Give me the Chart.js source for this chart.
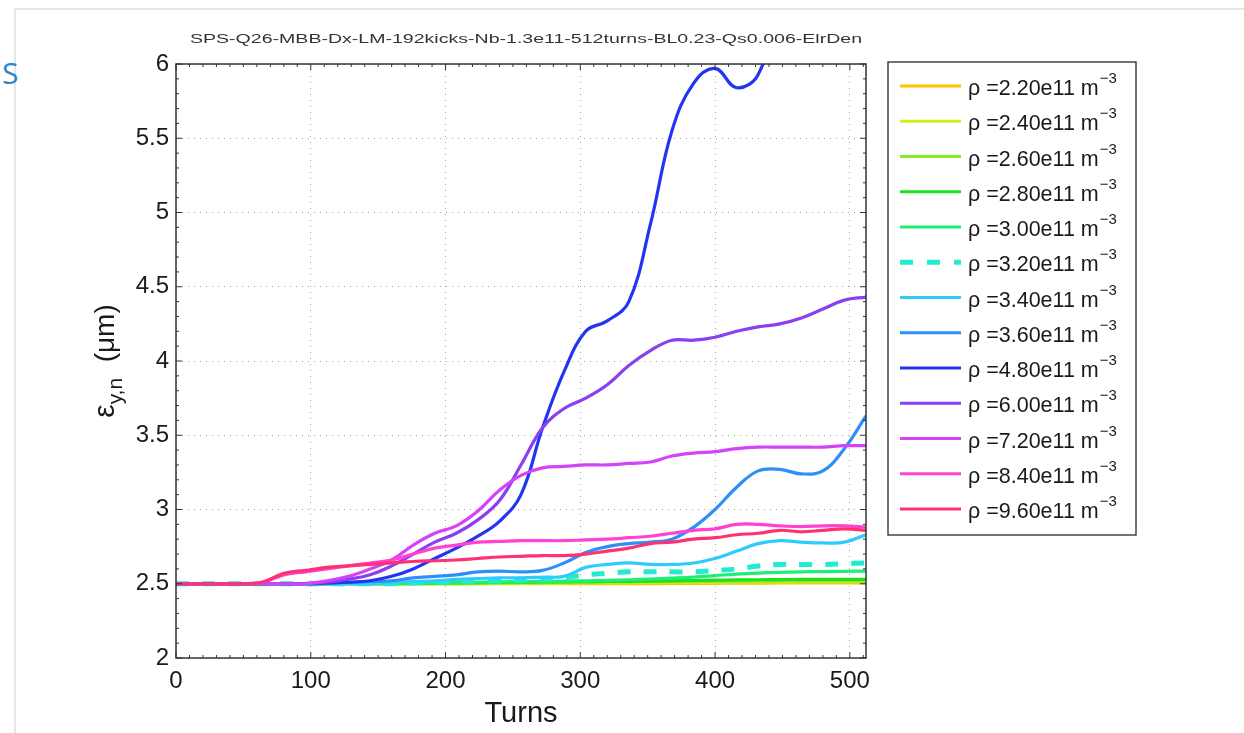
<!DOCTYPE html>
<html>
<head>
<meta charset="utf-8">
<script src="https://cdn.jsdelivr.net/npm/chart.js@4/dist/chart.umd.min.js"></script>
<style>
    body { margin: 0; background: #fff; overflow: hidden; }
    #frame { position: absolute; left: 14px; top: 8px; width: 1240px; height: 740px;
             border-top: 2px solid #e6e6e6; border-left: 2px solid #e6e6e6; }
    #side { position: absolute; left: 2px; top: 52px; font: 30px "Open Sans", sans-serif; color: #2a88c6; }
    #chart { position: absolute; left: 0; top: 0; }
</style>
</head>
<body>
<div id="frame"></div>
<div id="side">S</div>
<canvas id="chart" width="1244" height="733"></canvas>
<script>
// turns at which the emittance is sampled
const turns = [0, 16, 32, 48, 64, 80, 96, 112, 128, 144, 160, 176, 192, 208, 224, 240, 256,
               272, 288, 304, 320, 336, 352, 368, 384, 400, 416, 432, 448, 464, 480, 496, 512];

const densities = ["2.20", "2.40", "2.60", "2.80", "3.00", "3.20", "3.40", "3.60", "4.80", "6.00", "7.20", "8.40", "9.60"];
const lineColors = ["#ffc400", "#d2ee1c", "#84ee22", "#1ee01e", "#1eee78", "#22ecd0", "#2ecbff",
                    "#2e8ff8", "#2236f2", "#8a3ff0", "#d642f8", "#ff42d2", "#ff3172"];

const eps220 = [2.50, 2.50, 2.50, 2.50, 2.50, 2.50, 2.50, 2.50, 2.50, 2.50, 2.50, 2.50, 2.50, 2.50, 2.50, 2.50, 2.50,
                2.50, 2.50, 2.50, 2.50, 2.50, 2.50, 2.502, 2.503, 2.503, 2.504, 2.504, 2.505, 2.505, 2.505, 2.505, 2.505];
const eps240 = [2.50, 2.50, 2.50, 2.50, 2.50, 2.50, 2.50, 2.50, 2.50, 2.50, 2.50, 2.50, 2.50, 2.50, 2.50, 2.502, 2.503,
                2.504, 2.505, 2.506, 2.507, 2.508, 2.509, 2.51, 2.51, 2.511, 2.512, 2.512, 2.513, 2.513, 2.514, 2.514, 2.515];
const eps260 = [2.50, 2.50, 2.50, 2.50, 2.50, 2.50, 2.50, 2.50, 2.50, 2.50, 2.50, 2.50, 2.50, 2.502, 2.503, 2.505, 2.507,
                2.508, 2.51, 2.511, 2.512, 2.513, 2.514, 2.515, 2.516, 2.517, 2.518, 2.519, 2.52, 2.52, 2.52, 2.52, 2.52];
const eps280 = [2.50, 2.50, 2.50, 2.50, 2.50, 2.50, 2.50, 2.50, 2.50, 2.50, 2.50, 2.502, 2.504, 2.506, 2.508, 2.51, 2.511,
                2.512, 2.513, 2.514, 2.515, 2.516, 2.518, 2.52, 2.522, 2.524, 2.526, 2.527, 2.528, 2.529, 2.53, 2.53, 2.53];
const eps300 = [2.50, 2.50, 2.50, 2.50, 2.50, 2.50, 2.50, 2.50, 2.50, 2.50, 2.502, 2.504, 2.506, 2.508, 2.51, 2.512, 2.514,
                2.516, 2.518, 2.52, 2.523, 2.527, 2.532, 2.538, 2.545, 2.555, 2.565, 2.572, 2.577, 2.58, 2.582, 2.584, 2.585];
const eps320 = [2.50, 2.50, 2.50, 2.50, 2.50, 2.50, 2.50, 2.50, 2.50, 2.50, 2.50, 2.505, 2.51, 2.515, 2.52, 2.52, 2.525,
                2.53, 2.54, 2.56, 2.57, 2.58, 2.58, 2.58, 2.58, 2.59, 2.60, 2.62, 2.63, 2.63, 2.63, 2.635, 2.64];
const eps340 = [2.50, 2.50, 2.50, 2.50, 2.50, 2.50, 2.50, 2.50, 2.50, 2.50, 2.51, 2.515, 2.52, 2.53, 2.535, 2.54, 2.54,
                2.545, 2.55, 2.61, 2.63, 2.64, 2.63, 2.63, 2.64, 2.67, 2.72, 2.77, 2.79, 2.78, 2.775, 2.78, 2.83];
const eps360 = [2.50, 2.50, 2.50, 2.50, 2.50, 2.50, 2.50, 2.50, 2.51, 2.515, 2.52, 2.54, 2.55, 2.56, 2.58, 2.585, 2.58,
                2.59, 2.64, 2.71, 2.75, 2.77, 2.78, 2.80, 2.88, 3.00, 3.15, 3.26, 3.27, 3.24, 3.26, 3.41, 3.63];
const eps480 = [2.50, 2.50, 2.50, 2.50, 2.50, 2.50, 2.50, 2.505, 2.51, 2.52, 2.55, 2.60, 2.67, 2.74, 2.82, 2.92, 3.10,
                3.55, 3.93, 4.20, 4.27, 4.40, 4.92, 5.55, 5.87, 5.97, 5.84, 5.93, 6.40, 6.90, 7.30, 7.60, 7.90];
const eps600 = [2.50, 2.50, 2.50, 2.50, 2.50, 2.50, 2.50, 2.51, 2.53, 2.56, 2.62, 2.70, 2.78, 2.84, 2.93, 3.06, 3.30,
                3.55, 3.68, 3.75, 3.84, 3.97, 4.07, 4.14, 4.14, 4.16, 4.20, 4.23, 4.25, 4.29, 4.35, 4.41, 4.43];
const eps720 = [2.50, 2.50, 2.50, 2.50, 2.50, 2.50, 2.50, 2.52, 2.55, 2.60, 2.66, 2.76, 2.84, 2.89, 2.99, 3.13, 3.23,
                3.28, 3.29, 3.30, 3.30, 3.31, 3.32, 3.36, 3.38, 3.39, 3.41, 3.42, 3.42, 3.42, 3.42, 3.43, 3.43];
const eps840 = [2.50, 2.50, 2.50, 2.50, 2.51, 2.56, 2.58, 2.60, 2.62, 2.64, 2.66, 2.70, 2.74, 2.76, 2.78, 2.785, 2.79,
                2.79, 2.79, 2.795, 2.80, 2.81, 2.82, 2.84, 2.86, 2.87, 2.90, 2.90, 2.89, 2.885, 2.89, 2.89, 2.88];
const eps960 = [2.50, 2.50, 2.50, 2.50, 2.51, 2.57, 2.59, 2.61, 2.62, 2.63, 2.64, 2.65, 2.655, 2.66, 2.67, 2.68, 2.685,
                2.69, 2.69, 2.70, 2.72, 2.74, 2.77, 2.78, 2.80, 2.81, 2.83, 2.84, 2.86, 2.85, 2.86, 2.87, 2.86];

const series = [eps220, eps240, eps260, eps280, eps300, eps320, eps340, eps360, eps480, eps600, eps720, eps840, eps960];

const xTicks = [0, 100, 200, 300, 400, 500];
const yTicks = [2, 2.5, 3, 3.5, 4, 4.5, 5, 5.5, 6];

const chartTitle = "SPS-Q26-MBB-Dx-LM-192kicks-Nb-1.3e11-512turns-BL0.23-Qs0.006-ElrDen";
const FONT = '"Liberation Sans", Arial, sans-serif';

const datasets = series.map((vals, i) => ({
    label: "\u03c1 =" + densities[i] + "e11 m^-3",
    data: vals.map((v, j) => ({ x: turns[j], y: v })),
    borderColor: lineColors[i],
    borderWidth: i === 5 ? 5 : 3.2,
    borderDash: i === 5 ? [13, 13] : [],
    pointRadius: 0,
    tension: 0.4,
    fill: false,
    order: series.length - i
}));

// frame, inward ticks, title, axis titles and legend
const decorations = {
    id: "decorations",
    afterDraw(chart) {
        const ctx = chart.ctx;
        const a = chart.chartArea;
        const xs = chart.scales.x, ys = chart.scales.y;
        ctx.save();

        ctx.strokeStyle = "#333";
        ctx.lineWidth = 1.5;
        ctx.setLineDash([]);
        ctx.strokeRect(a.left, a.top, a.right - a.left, a.bottom - a.top);

        // major and minor ticks pointing inwards
        ctx.lineWidth = 1;
        for (let t = 0; t <= 512; t += 10) {
            const px = xs.getPixelForValue(t);
            const len = t % 100 === 0 ? 6 : 3;
            ctx.beginPath();
            ctx.moveTo(px, a.bottom); ctx.lineTo(px, a.bottom - len);
            ctx.moveTo(px, a.top); ctx.lineTo(px, a.top + len);
            ctx.stroke();
        }
        for (let k = 0; k <= 40; k++) {
            const py = ys.getPixelForValue(2 + k * 0.1);
            const len = k % 5 === 0 ? 6 : 3;
            ctx.beginPath();
            ctx.moveTo(a.left, py); ctx.lineTo(a.left + len, py);
            ctx.moveTo(a.right, py); ctx.lineTo(a.right - len, py);
            ctx.stroke();
        }

        // title, stretched to the original width
        ctx.fillStyle = "#333";
        ctx.font = "13px " + FONT;
        ctx.textBaseline = "alphabetic";
        const tw = ctx.measureText(chartTitle).width;
        ctx.save();
        ctx.translate(190, 43);
        ctx.scale(672 / tw, 1);
        ctx.fillText(chartTitle, 0, 0);
        ctx.restore();

        // x title
        ctx.fillStyle = "#1a1a1a";
        ctx.font = "29px " + FONT;
        ctx.textAlign = "center";
        ctx.fillText("Turns", 521, 722);

        // y title
        ctx.save();
        ctx.translate(114, 361);
        ctx.rotate(-Math.PI / 2);
        ctx.textAlign = "left";
        const parts = [["\u03b5", "30px", 0], ["y,n", "21px", 8], ["  (\u03bcm)", "28px", 0]];
        let total = 0;
        parts.forEach(p => { ctx.font = p[1] + " " + FONT; total += ctx.measureText(p[0]).width; });
        let cx = -total / 2;
        parts.forEach(p => {
            ctx.font = p[1] + " " + FONT;
            ctx.fillText(p[0], cx, p[2]);
            cx += ctx.measureText(p[0]).width;
        });
        ctx.restore();

        // legend
        ctx.textAlign = "left";
        ctx.fillStyle = "#fff";
        ctx.fillRect(888, 62, 248, 473);
        ctx.strokeStyle = "#444";
        ctx.lineWidth = 1.5;
        ctx.strokeRect(888, 62, 248, 473);
        densities.forEach((d, i) => {
            const y = 86 + i * 35.25;
            ctx.strokeStyle = lineColors[i];
            ctx.lineWidth = i === 5 ? 5 : 3;
            ctx.setLineDash(i === 5 ? [13, 14] : []);
            ctx.beginPath();
            ctx.moveTo(900, y); ctx.lineTo(961, y);
            ctx.stroke();
            ctx.setLineDash([]);
            ctx.fillStyle = "#1a1a1a";
            ctx.font = "21.5px " + FONT;
            const txt = "\u03c1 =" + d + "e11 m";
            ctx.fillText(txt, 968, y + 9);
            const w = ctx.measureText(txt).width;
            ctx.font = "15px " + FONT;
            ctx.fillText("\u22123", 968 + w + 1, y - 3);
        });
        ctx.restore();
    }
};

new Chart(document.getElementById("chart"), {
    type: "line",
    data: { datasets: datasets },
    options: {
        responsive: false,
        animation: false,
        devicePixelRatio: 1,
        layout: { padding: { left: 126, top: 64, right: 378, bottom: 35 } },
        plugins: { legend: { display: false }, title: { display: false }, tooltip: { enabled: false } },
        scales: {
            x: {
                type: "linear",
                min: 0,
                max: 512,
                afterBuildTicks: s => { s.ticks = xTicks.map(v => ({ value: v })); },
                afterFit: s => { s.height = 40; },
                grid: { color: "#a8a8a8", lineWidth: 1, drawTicks: false },
                border: { display: false, dash: [1, 5] },
                ticks: { color: "#1a1a1a", padding: 9, maxRotation: 0, font: { family: FONT, size: 24 } }
            },
            y: {
                min: 2,
                max: 6,
                afterBuildTicks: s => { s.ticks = yTicks.map(v => ({ value: v })); },
                afterFit: s => { s.width = 50; },
                grid: { color: "#a8a8a8", lineWidth: 1, drawTicks: false },
                border: { display: false, dash: [1, 5] },
                ticks: { color: "#1a1a1a", padding: 7, font: { family: FONT, size: 24 },
                         callback: v => String(v) }
            }
        }
    },
    plugins: [decorations]
});
</script>
</body>
</html>
